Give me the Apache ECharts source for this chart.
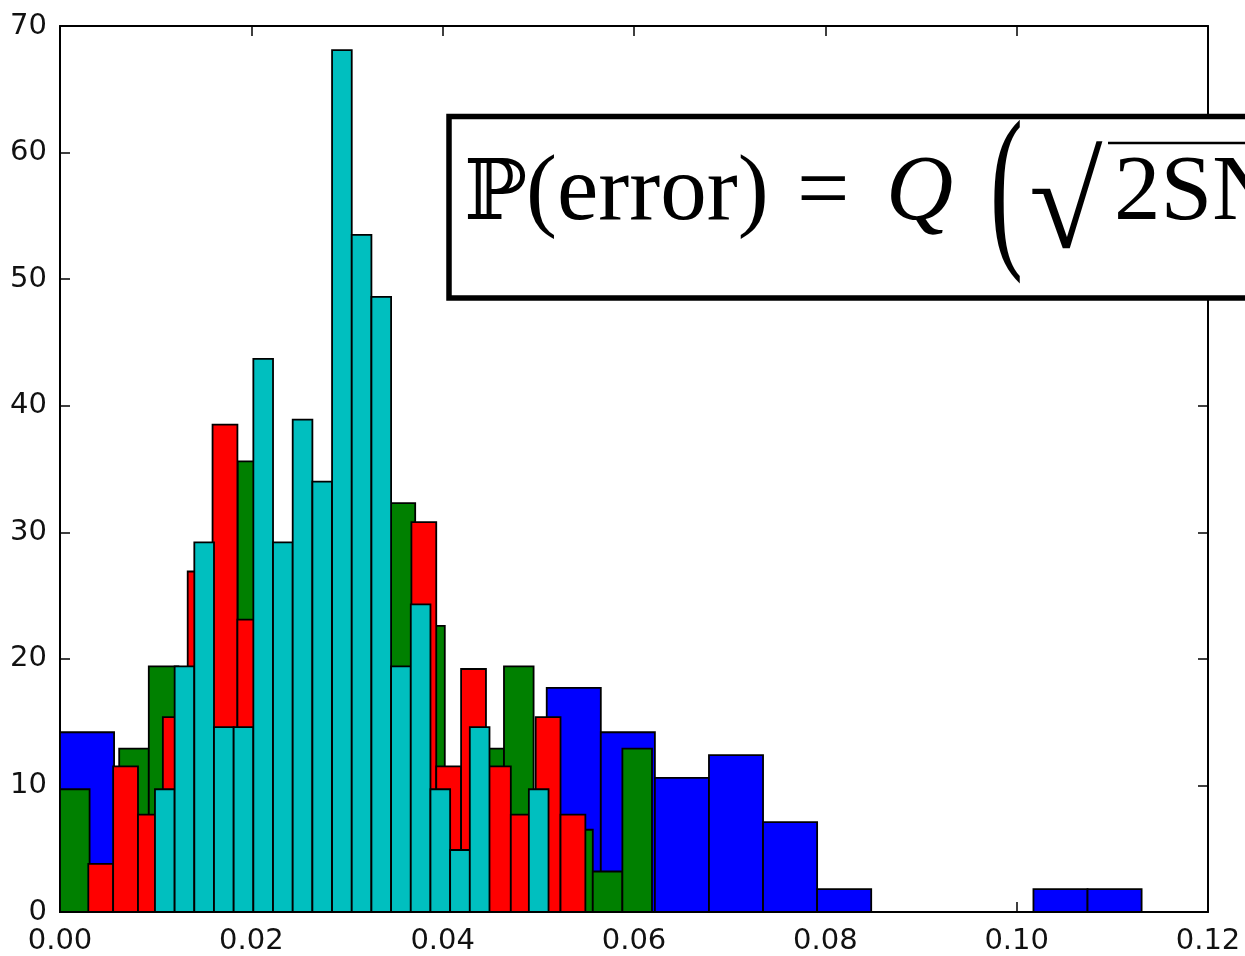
<!DOCTYPE html>
<html>
<head>
<meta charset="utf-8">
<script src="https://cdn.jsdelivr.net/npm/echarts@6/dist/echarts.min.js"></script>
<style>
  html, body { margin: 0; padding: 0; background: #fff; }
  #chart { width: 1245px; height: 956px; }
</style>
</head>
<body>
<div id="chart"></div>
<script>
// four overlaid histograms, each 20 bins: first edge, bin width, bar heights (density)
var blueStart = 0.0, blueWidth = 0.005653;
var blueHeights = [14.2, 7.1, 10.6, 15.9, 17.7, 19.5, 14.2, 7.1, 3.5, 17.7,
                   14.2, 10.6, 12.4, 7.1, 1.8, 0, 0, 0, 1.8, 1.8];

var greenStart = 0.0, greenWidth = 0.003094;
var greenHeights = [9.7, 3.2, 12.9, 19.4, 16.2, 25.9, 35.6, 25.9, 22.6, 16.2,
                    16.2, 32.3, 22.6, 6.5, 12.9, 19.4, 3.2, 6.5, 3.2, 12.9];

var redStart = 0.002957, redWidth = 0.002598;
var redHeights = [3.8, 11.5, 7.7, 15.4, 26.9, 38.5, 23.1, 26.9, 23.1, 30.8,
                  34.6, 23.1, 15.4, 30.8, 11.5, 19.2, 11.5, 7.7, 15.4, 7.7];

var cyanStart = 0.009926, cyanWidth = 0.002057;
var cyanHeights = [9.7, 19.4, 29.2, 14.6, 14.6, 43.7, 29.2, 38.9, 34.0, 68.1,
                   53.5, 48.6, 19.4, 24.3, 9.7, 4.9, 14.6, 0, 0, 9.7];

var xTicks = [0, 0.02, 0.04, 0.06, 0.08, 0.10, 0.12];
var yTicks = [0, 10, 20, 30, 40, 50, 60, 70];

var tickFont = 'DejaVu Sans';
var mathFont = '"Liberation Serif", "DejaVu Serif", serif';

function bins(start, width, heights) {
  var out = [];
  for (var i = 0; i < heights.length; i++) {
    out.push([start + i * width, start + (i + 1) * width, heights[i]]);
  }
  return out;
}

function histSeries(name, color, data) {
  return {
    name: name,
    type: 'custom',
    data: data,
    encode: { x: [0, 1], y: 2 },
    renderItem: function(params, api) {
      var h = api.value(2);
      if (!h) return null;
      var p0 = api.coord([api.value(0), 0]);
      var p1 = api.coord([api.value(1), h]);
      return {
        type: 'rect',
        shape: { x: p0[0], y: p1[1], width: p1[0] - p0[0], height: p0[1] - p1[1] },
        style: { fill: color, stroke: '#000', lineWidth: 1.8 }
      };
    }
  };
}

var chart = echarts.init(document.getElementById('chart'), null, { renderer: 'canvas' });

var axisLine = { show: true, onZero: false, lineStyle: { color: '#000', width: 2 } };
var tick = { show: true, inside: true, length: 10, lineStyle: { color: '#000', width: 1.5 } };

chart.setOption({
  animation: false,
  backgroundColor: '#fff',
  grid: { left: 60, right: 37, top: 26, bottom: 43, containLabel: false },
  xAxis: [{
    type: 'value', position: 'bottom',
    min: xTicks[0], max: xTicks[xTicks.length - 1], interval: 0.02,
    axisLine: axisLine, axisTick: tick, splitLine: { show: false },
    axisLabel: {
      margin: 15, color: '#111', fontSize: 29, fontFamily: tickFont,
      formatter: function(v) { return v.toFixed(2); }
    }
  }, {
    type: 'value', position: 'top',
    min: xTicks[0], max: xTicks[xTicks.length - 1], interval: 0.02,
    axisLine: axisLine, axisTick: tick, splitLine: { show: false },
    axisLabel: { show: false }
  }],
  yAxis: [{
    type: 'value', position: 'left',
    min: yTicks[0], max: yTicks[yTicks.length - 1], interval: 10,
    axisLine: axisLine, axisTick: tick, splitLine: { show: false },
    axisLabel: { margin: 13, color: '#111', fontSize: 29, fontFamily: tickFont }
  }, {
    type: 'value', position: 'right',
    min: yTicks[0], max: yTicks[yTicks.length - 1], interval: 10,
    axisLine: axisLine, axisTick: tick, splitLine: { show: false },
    axisLabel: { show: false }
  }],
  series: [
    histSeries('blue', '#0000ff', bins(blueStart, blueWidth, blueHeights)),
    histSeries('green', '#008000', bins(greenStart, greenWidth, greenHeights)),
    histSeries('red', '#ff0000', bins(redStart, redWidth, redHeights)),
    histSeries('cyan', '#00bfbf', bins(cyanStart, cyanWidth, cyanHeights))
  ],
  graphic: [
    { type: 'rect', z: 100, shape: { x: 449, y: 116.5, width: 900, height: 181.5 },
      style: { fill: '#fff', stroke: '#000', lineWidth: 5.5 } },
    { type: 'text', z: 101, x: 464, y: 197,
      style: { text: 'ℙ', font: '84px ' + mathFont, fill: '#000', verticalAlign: 'middle' } },
    { type: 'text', z: 101, x: 526, y: 195,
      style: { text: '(error)', font: '93px ' + mathFont, fill: '#000', verticalAlign: 'middle' } },
    { type: 'text', z: 101, x: 797, y: 195,
      style: { text: '=', font: '93px ' + mathFont, fill: '#000', verticalAlign: 'middle' } },
    { type: 'text', z: 101, x: 886, y: 195,
      style: { text: 'Q', font: 'italic 93px ' + mathFont, fill: '#000', verticalAlign: 'middle' } },
    { type: 'text', z: 101, x: 990, y: 198, scaleX: 0.55,
      style: { text: '(', font: '180px ' + mathFont, fill: '#000', verticalAlign: 'middle' } },
    { type: 'text', z: 101, x: 1029, y: 212,
      style: { text: '√', font: '134px ' + mathFont, fill: '#000', verticalAlign: 'middle' } },
    { type: 'line', z: 101, shape: { x1: 1108, y1: 143, x2: 1260, y2: 143 },
      style: { stroke: '#000', lineWidth: 2.5 } },
    { type: 'text', z: 101, x: 1114, y: 195,
      style: { text: '2SN', font: '93px ' + mathFont, fill: '#000', verticalAlign: 'middle' } }
  ]
});
window.addEventListener('resize', function() { chart.resize(); });
</script>
</body>
</html>
